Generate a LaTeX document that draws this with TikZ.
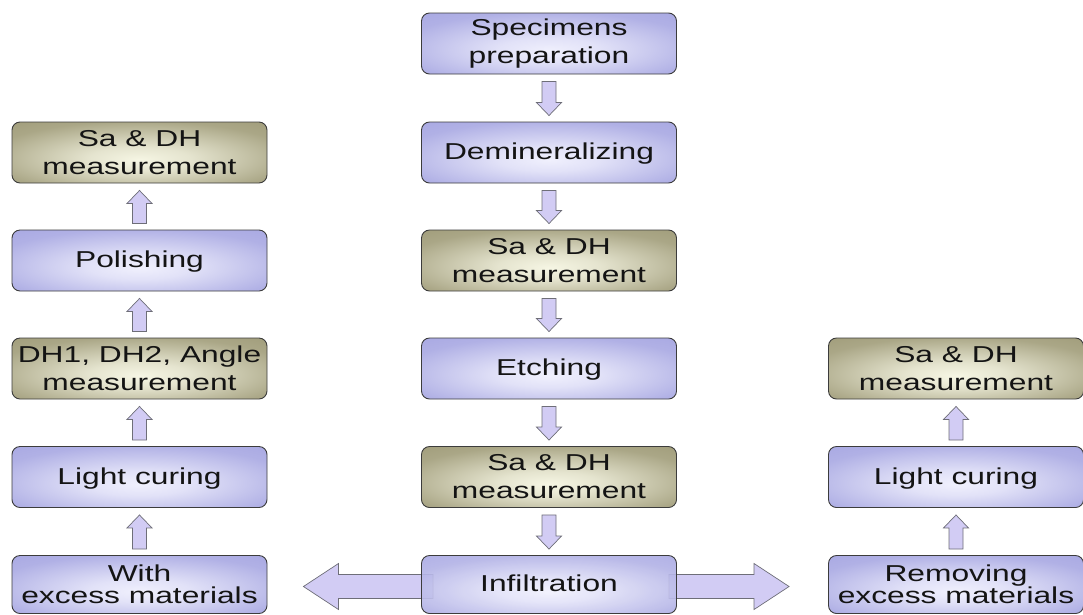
\documentclass[tikz,border=0pt]{standalone}
\usepackage{fontspec}
\setmainfont{Liberation Sans}[FakeStretch=1.38]
\usetikzlibrary{calc,backgrounds}
\definecolor{lavout}{RGB}{168,168,226}
\definecolor{lavin}{RGB}{240,240,253}
\definecolor{olvout}{RGB}{160,156,122}
\definecolor{olvin}{RGB}{246,246,228}
\definecolor{bord}{RGB}{60,60,60}
\definecolor{arrfill}{RGB}{210,204,244}
\definecolor{arrdraw}{RGB}{110,110,120}
\definecolor{txt}{RGB}{20,20,20}
\pgfdeclareradialshading{lavglow}{\pgfpoint{0bp}{-6bp}}{color(0bp)=(lavin); color(10bp)=(lavin!80!lavout); color(30bp)=(lavout!88!lavin); color(40bp)=(lavout); color(100bp)=(lavout)}
\pgfdeclareradialshading{olvglow}{\pgfpoint{0bp}{-6bp}}{color(0bp)=(olvin); color(10bp)=(olvin!80!olvout); color(30bp)=(olvout!88!olvin); color(40bp)=(olvout); color(100bp)=(olvout)}
\newcommand\DownArr[2]{\draw[blk] let \p1=(#1.south), \p2=(#2.north) in
  (\x1-7pt,\y1-7pt) -- (\x1+7pt,\y1-7pt) -- (\x1+7pt,\y2+19pt) -- (\x1+12.5pt,\y2+19pt)
  -- (\x1,\y2+6pt) -- (\x1-12.5pt,\y2+19pt) -- (\x1-7pt,\y2+19pt) -- cycle;}
\newcommand\UpArr[2]{\draw[blk] let \p1=(#1.north), \p2=(#2.south) in
  (\x1-7pt,\y1+6pt) -- (\x1+7pt,\y1+6pt) -- (\x1+7pt,\y2-20pt) -- (\x1+12.5pt,\y2-20pt)
  -- (\x1,\y2-7pt) -- (\x1-12.5pt,\y2-20pt) -- (\x1-7pt,\y2-20pt) -- cycle;}
\begin{document}
\begin{tikzpicture}[x=1pt,y=-1pt,
  box/.style={rounded corners=8pt, draw=bord, line width=0.9pt, minimum width=255pt,
    minimum height=61pt, inner sep=0pt, align=center, text=txt,
    font=\fontsize{23}{28}\selectfont},
  lav/.style={box, shade, shading=lavglow},
  olv/.style={box, shade, shading=olvglow},
  one/.style={text depth=2pt},
  lowbox/.style={minimum height=58pt, font=\fontsize{23}{22}\selectfont},
  blk/.style={fill=arrfill, draw=arrdraw, line width=0.7pt, line join=miter},
  ]
\useasboundingbox (0,0) rectangle (1083,614);
% centre column
\node[lav] (spec) at (549,43.5) {Specimens\\preparation};
\node[lav, one] (demin) at (549,152.5) {Demineralizing};
\node[olv] (m1) at (549,260.5) {Sa \& DH\\measurement};
\node[lav, one] (etch) at (549,368.5) {Etching};
\node[olv] (m2) at (549,477) {Sa \& DH\\measurement};
\node[lav, lowbox, one, fill opacity=0.9, text opacity=1] (inf) at (549,584.5) {Infiltration};
% left column
\node[olv] (l1) at (139.5,152.5) {Sa \& DH\\measurement};
\node[lav, one] (pol) at (139.5,260.5) {Polishing};
\node[olv] (dh) at (139.5,368.5) {DH1, DH2, Angle\\measurement};
\node[lav, one] (lc1) at (139.5,477) {Light curing};
\node[lav, lowbox] (with) at (139.5,584.5) {With\\excess materials};
% right column
\node[olv] (r1) at (956,368.5) {Sa \& DH\\measurement};
\node[lav, one] (lc2) at (956,477) {Light curing};
\node[lav, lowbox] (rem) at (956,584.5) {Removing\\excess materials};
% small arrows
\DownArr{spec}{demin}
\DownArr{demin}{m1}
\DownArr{m1}{etch}
\DownArr{etch}{m2}
\DownArr{m2}{inf}
\UpArr{with}{lc1}
\UpArr{lc1}{dh}
\UpArr{dh}{pol}
\UpArr{pol}{l1}
\UpArr{rem}{lc2}
\UpArr{lc2}{r1}
% big arrows
\begin{scope}[on background layer]
\draw[blk] let \p1=(inf.west), \p2=(with.east) in
  (\x1+12pt,\y1-14pt) -- (\x2+71pt,\y1-14pt) -- (\x2+71pt,\y1-25pt) -- (\x2+36pt,\y1-2pt)
  -- (\x2+71pt,\y1+21pt) -- (\x2+71pt,\y1+10pt) -- (\x1+12pt,\y1+10pt) -- cycle;
\draw[blk] let \p1=(inf.east), \p2=(rem.west) in
  (\x1-8pt,\y1-14pt) -- (\x2-74pt,\y1-14pt) -- (\x2-74pt,\y1-25pt) -- (\x2-39pt,\y1-2pt)
  -- (\x2-74pt,\y1+21pt) -- (\x2-74pt,\y1+10pt) -- (\x1-8pt,\y1+10pt) -- cycle;
\end{scope}
\end{tikzpicture}
\end{document}
